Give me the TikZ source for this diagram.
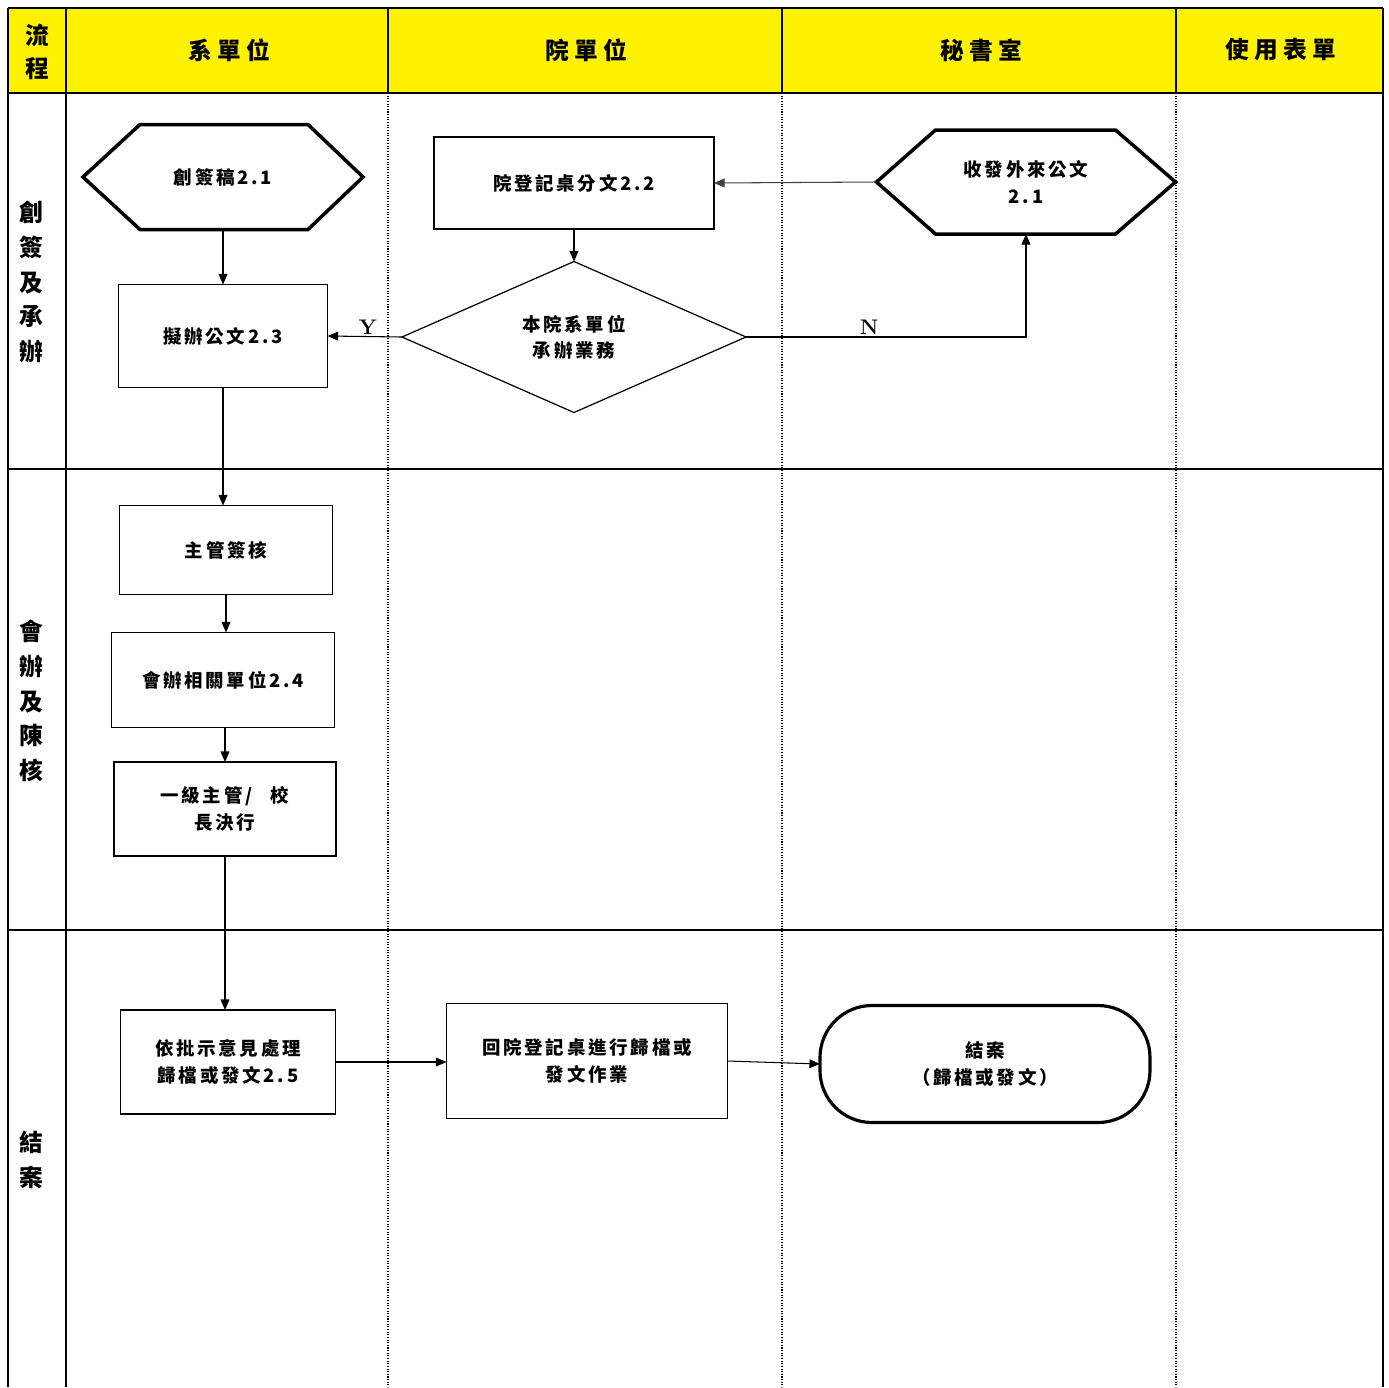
\documentclass[tikz,border=0pt]{standalone}
\usepackage{fontspec}
\newfontfamily\cjk[LetterSpace=15]{Noto Sans CJK TC}
\newfontfamily\cjkh[LetterSpace=22]{Noto Sans CJK TC}
\newfontfamily\cjkv{Noto Sans CJK TC}
\usetikzlibrary{shapes.geometric,shapes.misc,arrows.meta,calc}
\newcommand\mynodefont{\cjk\bfseries\fontsize{10.5}{15}\selectfont}
\newcommand\myheadfont{\cjkh\bfseries\fontsize{13.5}{19}\selectfont}
\newcommand\myrowfont{\cjkv\bfseries\fontsize{13.5}{19.8}\selectfont}
\def\pxu{0.02cm}
\begin{document}
\begin{tikzpicture}[x=0.02cm,y=-0.02cm,
  grid/.style={line width=0.9pt,black},
  dotline/.style={line width=0.6pt,black,dash pattern=on 0.6pt off 0.9pt},
  box/.style={draw,line width=0.9pt,inner sep=0pt,outer sep=0pt,align=center,font=\mynodefont},
  hexnode/.style={inner sep=0pt,outer sep=0pt,align=center,font=\mynodefont},
  hexline/.style={line width=2pt,line join=miter},
  dia/.style={diamond,draw,line width=0.7pt,aspect=2.3,inner sep=0pt,outer sep=0pt,align=center,font=\mynodefont},
  term/.style={draw,rectangle,rounded corners=52*\pxu,line width=1.8pt,inner sep=0pt,outer sep=0pt,align=center,font=\mynodefont},
  arr/.style={line width=0.6pt,-{Triangle[length=6pt,width=5pt]}},
  head/.style={font=\myheadfont,align=center,inner sep=0pt},
  rowlab/.style={font=\myrowfont,align=center,inner sep=0pt},
  yn/.style={font=\bfseries\fontsize{12}{12}\selectfont,inner sep=1pt}
]
\useasboundingbox (0,0) rectangle (1389,1387);
% header
\fill[yellow] (8,8) rectangle (1383,93);
% grid
\draw[grid] (8,8) -- (1383,8);
\draw[grid] (8,93) -- (1383,93);
\draw[grid] (8,469) -- (1383,469);
\draw[grid] (8,930) -- (1383,930);
\draw[grid] (8,8) -- (8,1387);
\draw[grid] (1383,8) -- (1383,1387);
\draw[grid] (66,8) -- (66,1387);
\draw[grid] (388,8) -- (388,93);
\draw[grid] (782,8) -- (782,93);
\draw[grid] (1176,8) -- (1176,93);
\draw[dotline] (388,93) -- (388,1387);
\draw[dotline] (782,93) -- (782,1387);
\draw[dotline] (1176,93) -- (1176,1387);

% header texts
\node[head] (hA) at (37,52) {流\\程};
\node[head] (hB) at (229,50) {系單位};
\node[head] (hC) at (586,50) {院單位};
\node[head] (hD) at (981,50) {秘書室};
\node[head] (hE) at (1281,50) {使用表單};

% row labels
\node[rowlab] (r1) at (31,282) {創\\簽\\及\\承\\辦};
\node[rowlab] (r2) at (31,701) {會\\辦\\及\\陳\\核};
\node[rowlab] (r3) at (31,1160) {結\\案};

% nodes
\node[hexnode,minimum width=280*\pxu,minimum height=105*\pxu] (h1) at (223,177) {創簽稿2.1};
\draw[hexline] (h1.west) -- ($(h1.north west)+(57,0)$) -- ($(h1.north east)+(-55,0)$) -- (h1.east) -- ($(h1.south east)+(-55,0)$) -- ($(h1.south west)+(57,0)$) -- cycle;

\node[box,minimum width=280*\pxu,minimum height=92*\pxu] (b22) at (574,183) {院登記桌分文2.2};

\node[hexnode,minimum width=299*\pxu,minimum height=104*\pxu] (h2) at (1026,182) {收發外來公文\\2.1};
\draw[hexline] (h2.west) -- ($(h2.north west)+(59,0)$) -- ($(h2.north east)+(-60,0)$) -- (h2.east) -- ($(h2.south east)+(-60,0)$) -- ($(h2.south west)+(59,0)$) -- cycle;

\node[dia,minimum width=344*\pxu,minimum height=151*\pxu] (d) at (574,337) {本院系單位\\承辦業務};

\node[box,minimum width=209*\pxu,minimum height=103*\pxu] (b23) at (223,336) {擬辦公文2.3};
\node[box,minimum width=213*\pxu,minimum height=89*\pxu] (bz) at (226,550) {主管簽核};
\node[box,minimum width=223*\pxu,minimum height=95*\pxu] (b24) at (223,680) {會辦相關單位2.4};
\node[box,minimum width=222*\pxu,minimum height=94*\pxu] (b1j) at (225,809) {一級主管/\quad 校\\長決行};
\node[box,minimum width=215*\pxu,minimum height=104*\pxu] (b25) at (228,1062) {依批示意見處理\\歸檔或發文2.5};
\node[box,minimum width=281*\pxu,minimum height=115*\pxu] (bh) at (587,1061) {回院登記桌進行歸檔或\\發文作業};
\node[term,minimum width=330*\pxu,minimum height=117*\pxu] (end) at (985,1064) {結案\\（歸檔或發文）};

% connectors
\draw[arr] (h1.south) -- (b23.north);
\draw[arr] (b22.south) -- (d.north);
\draw[arr,black!75] (h2.west) -- (b22.east);
\draw[arr] (d.west) -- node[yn,above,xshift=3*\pxu] {Y} (b23.east);
\draw[arr] (d.east) -| node[yn,above,pos=0.22] {N} (h2.south);
\draw[arr] (b23.south) -- (bz.north -| b23.south);
\draw[arr] (bz.south) -- (b24.north -| bz.south);
\draw[arr] (b24.south -| b1j.south) -- (b1j.north);
\draw[arr] (b1j.south) -- (b25.north -| b1j.south);
\draw[arr] (b25.east) -- (b25.east -| bh.west);
\draw[arr] (bh.east) -- (end.west);
\end{tikzpicture}
\end{document}
